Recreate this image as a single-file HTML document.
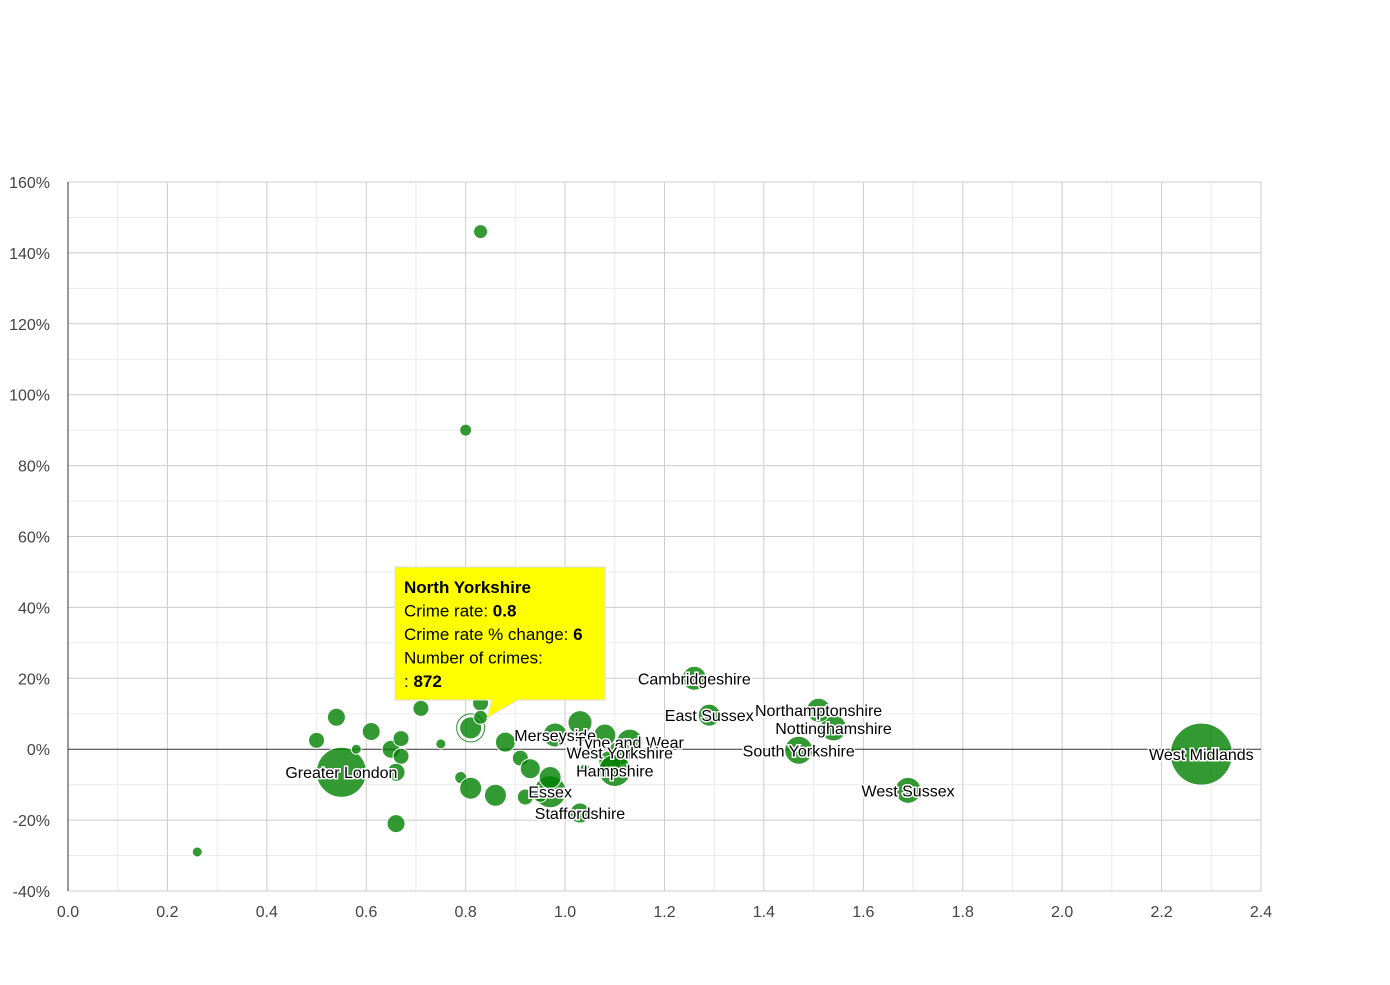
<!DOCTYPE html>
<html><head><meta charset="utf-8"><style>
body{margin:0;background:#fff;font-family:"Liberation Sans",Arial,sans-serif;}
svg text{font-family:"Liberation Sans",Arial,sans-serif;}
</style></head><body>
<svg id="c" width="1390" height="980"></svg>
<script>
const names=["","","","West Midlands","Greater London","West Sussex","South Yorkshire","Nottinghamshire","Northamptonshire","East Sussex","Cambridgeshire","","","","","","","","","","","","North Yorkshire","","","","","","","","","Essex","","","","Staffordshire","Merseyside","","","Tyne and Wear","West Yorkshire","","Hampshire",""];
const rates=[0.83,0.80,0.26,2.28,0.55,1.69,1.47,1.54,1.51,1.29,1.26,0.54,0.50,0.61,0.58,0.71,0.75,0.65,0.67,0.67,0.66,0.66,0.81,0.83,0.83,0.88,0.79,0.81,0.86,0.91,0.93,0.97,0.97,0.92,0.95,1.03,0.98,1.03,1.08,1.13,1.11,1.09,1.10,1.04];
const changes=[146,90,-29,-1.4,-6.5,-11.6,-0.3,6,11,9.6,20,9,2.5,5,0,11.5,1.5,0,3,-2,-6.5,-21,6,13,9,2,-8,-11,-13,-2.5,-5.5,-12,-8,-13.5,-13,-18,4,7.5,4,2,-1,-3.5,-6,-5.5];
const sizes=[7,6,5,31,25,13,14,13,12,11,12,9,8,9,5,8,5,9,8,8,9,9,11,8,7,10,6,11,11,8,10,16,11,8,7,10,12,12,11,13,12,11,16,5];
const xTicks=[0,0.2,0.4,0.6,0.8,1.0,1.2,1.4,1.6,1.8,2.0,2.2,2.4];
const yTicks=[-40,-20,0,20,40,60,80,100,120,140,160];
const NS="http://www.w3.org/2000/svg";
const svg=document.getElementById('c');
const X=v=>68+(v/2.4)*(1261-68);
const Y=v=>891-(v+40)/200*(891-182);
function mk(t,a,p){const e=document.createElementNS(NS,t);for(const k in a)e.setAttribute(k,a[k]);(p||svg).appendChild(e);return e;}
// minor grid
for(let v=0.1;v<2.4;v+=0.2){const l=mk('line',{x1:X(v),x2:X(v),y1:182,y2:891,stroke:'#ebebeb'});

}
for(let v=-30;v<160;v+=20){const l=mk('line',{x1:68,x2:1261,y1:Y(v),y2:Y(v),stroke:'#ebebeb'});

}
xTicks.forEach(v=>{const l=mk('line',{x1:X(v),x2:X(v),y1:182,y2:891,stroke:'#cccccc'});


const t=mk('text',{x:X(v),y:917,'text-anchor':'middle','font-size':16,fill:'#444'});t.textContent=v.toFixed(1);

});
yTicks.forEach(v=>{const l=mk('line',{x1:68,x2:1261,y1:Y(v),y2:Y(v),stroke:v===0?'#333':'#cccccc'});


const t=mk('text',{x:50,y:Y(v)+6,'text-anchor':'end','font-size':16,fill:'#444'});t.textContent=v+'%';

});
const ax=mk('line',{x1:68,x2:68,y1:182,y2:891,stroke:'#333'});


rates.forEach((r,i)=>{const c=mk('circle',{cx:X(r),cy:Y(changes[i]),r:sizes[i],fill:'rgba(0,128,0,0.8)',stroke:'#fff','stroke-width':1});


if(i===22){const h=mk('circle',{cx:X(r),cy:Y(changes[i]),r:sizes[i]+3,fill:'none',stroke:'#2e8b2e','stroke-width':1});

}});
rates.forEach((r,i)=>{if(!names[i]||i===22)return;const t=mk('text',{x:X(r),y:Y(changes[i])+6,'text-anchor':'middle','font-size':16,fill:'#000',stroke:'#fff','stroke-width':3,'paint-order':'stroke'});t.textContent=names[i];

});
// tooltip
const g=mk('g',{});


mk('path',{d:'M395 567 H605 V700 H518 L487 718 L492 700 H395 Z',fill:'#ffff00',stroke:'#ddd'},g);
const lines=[['North Yorkshire','',true],['Crime rate: ','0.8'],['Crime rate % change: ','6'],['Number of crimes:',''],[': ','872']];
lines.forEach((L,i)=>{const t=mk('text',{x:404,y:593+i*23.5,'font-size':17,fill:'#000'},g);
if(L[2]){t.setAttribute('font-weight','bold');t.textContent=L[0];}
else{t.textContent=L[0];const b=mk('tspan',{'font-weight':'bold'},t);b.textContent=L[1];}

});
</script>
</body></html>
